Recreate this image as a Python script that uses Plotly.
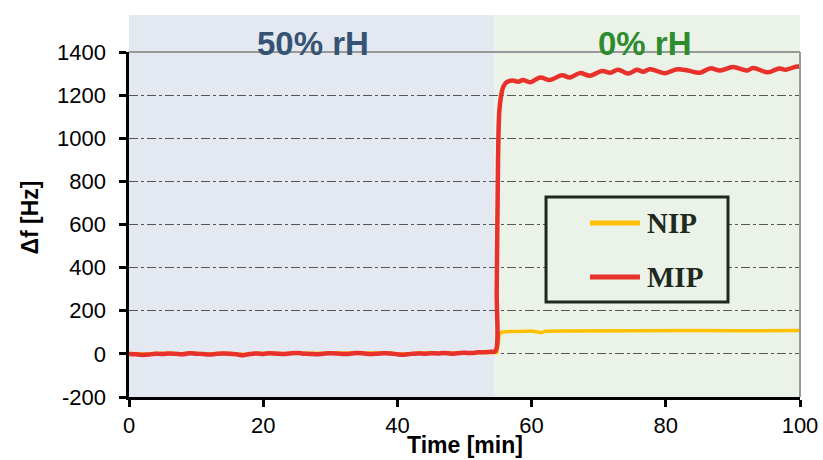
import plotly.graph_objects as go

# ---------------- data ----------------
time_pre = [0, 1, 2, 3, 4, 5, 6, 7, 8, 9, 10, 11, 12, 13, 14, 15, 16, 17, 18, 19,
            20, 21, 22, 23, 24, 25, 26, 27, 28, 29, 30, 31, 32, 33, 34, 35, 36, 37, 38, 39,
            40, 41, 42, 43, 44, 45, 46, 47, 48, 49, 50, 51, 52, 53, 54]
mip_pre = [0, -2, -5, -3, 1, -1, 2, 0, -2, 3, 1, -1, -3, 0, 2, 1, -2, -6, -1, 2,
           0, 3, 1, -1, 2, 4, 1, 0, -2, 1, 3, 2, 0, 1, 4, 2, -1, 1, 3, 2,
           -2, -4, 0, 2, 1, 3, 2, 4, 1, 3, 5, 4, 7, 8, 10]
nip_pre = [2, 1, -2, 0, 3, 1, 3, 2, 0, 4, 2, 1, -1, 2, 4, 3, 0, -3, 1, 4,
           2, 4, 3, 1, 4, 5, 3, 2, 0, 3, 4, 4, 2, 3, 5, 4, 1, 3, 4, 4,
           0, -1, 2, 4, 3, 4, 4, 5, 3, 4, 5, 5, 6, 6, 6]

time_mip_post = [54.6, 54.8, 55.0, 55.2, 55.5, 55.8, 56.3, 57.2, 58.0, 58.7, 59.8,
                 61.3, 62.7, 64.5, 65.7, 67.2, 68.7, 70.5, 71.7, 72.9, 74.4, 75.7,
                 76.6, 77.6, 78.8, 79.9, 81.7, 83.3, 85.1, 86.6, 88.1, 90.0, 92.1,
                 93.0, 95.2, 96.9, 97.9, 99.4, 100]
mip_post = [12, 300, 900, 1130, 1205, 1240, 1260, 1268, 1262, 1270, 1260,
            1282, 1270, 1292, 1282, 1302, 1290, 1312, 1304, 1318, 1300, 1318,
            1308, 1320, 1310, 1302, 1320, 1314, 1304, 1324, 1314, 1330, 1314,
            1326, 1306, 1324, 1318, 1332, 1332]

time_nip_post = [54.8, 55.0, 55.2, 55.5, 56, 58, 60, 61.5, 62, 65, 70, 75, 80, 85, 90, 95, 100]
nip_post = [6, 40, 90, 100, 103, 104, 106, 98, 105, 106, 107, 108, 107, 108, 107, 106, 108]

humid_end = 54.5
x_range = [0, 100]
y_range = [-200, 1400]
x_ticks = [0, 20, 40, 60, 80, 100]
y_ticks = [-200, 0, 200, 400, 600, 800, 1000, 1200, 1400]
y_tick_text = ["-200", "0", "200", "400", "600", "800", "1000", "1200", "1400"]

time_mip = time_pre + time_mip_post
mip = mip_pre + mip_post
time_nip = time_pre + time_nip_post
nip = nip_pre + nip_post

# ---------------- styles ----------------
BLUE_BG = "#e4e9f1"
GREEN_BG = "#ebf3e8"
RED = "#e8312a"
GOLD = "#ffc000"
TICK_FONT = dict(family="Liberation Sans, Arial", size=22, color="black")
# invisible padding glyph to push y tick labels away from the axis
LABEL_PAD = "<span style='color:rgba(0,0,0,0)'>*</span>"

fig = go.Figure()
fig.add_trace(go.Scatter(x=time_nip, y=nip, mode="lines", name="NIP",
                         line=dict(color=GOLD, width=3.5), showlegend=False))
fig.add_trace(go.Scatter(x=time_mip, y=mip, mode="lines", name="MIP",
                         line=dict(color=RED, width=4.5, shape="spline", smoothing=1.0),
                         showlegend=False))

shapes = [
    dict(type="rect", xref="x", yref="paper", x0=x_range[0], x1=humid_end, y0=0, y1=1.107,
         fillcolor=BLUE_BG, line=dict(width=0), layer="below"),
    dict(type="rect", xref="x", yref="paper", x0=humid_end, x1=x_range[1], y0=0, y1=1.107,
         fillcolor=GREEN_BG, line=dict(width=0), layer="below"),
    # top and right frame
    dict(type="line", xref="paper", yref="paper", x0=0, x1=1, y0=1, y1=1,
         line=dict(color="#999999", width=2)),
    dict(type="line", xref="paper", yref="paper", x0=1, x1=1, y0=0, y1=1,
         line=dict(color="#999999", width=2)),
    # legend box
    dict(type="rect", xref="paper", yref="paper", x0=0.6215, x1=0.8927, y0=0.2754, y1=0.5797,
         fillcolor=GREEN_BG, line=dict(color="#1e2a1e", width=3)),
    dict(type="line", xref="paper", yref="paper", x0=0.687, x1=0.7615, y0=0.504, y1=0.504,
         line=dict(color=GOLD, width=5)),
    dict(type="line", xref="paper", yref="paper", x0=0.687, x1=0.7615, y0=0.348, y1=0.348,
         line=dict(color=RED, width=5)),
]

annotations = [
    dict(text="<b>50% rH</b>", x=(x_range[0] + humid_end) / 2 + 0.1, y=1.0 + 8 / 345,
         xref="x", yref="paper", showarrow=False, xanchor="center", yanchor="middle",
         font=dict(family="Liberation Sans, Arial", size=33, color="#365373")),
    dict(text="<b>0% rH</b>", x=(humid_end + x_range[1]) / 2 - 0.4, y=1.0 + 8 / 345,
         xref="x", yref="paper", showarrow=False, xanchor="center", yanchor="middle",
         font=dict(family="Liberation Sans, Arial", size=33, color="#2e8b2e")),
    dict(text="<b>NIP</b>", x=0.769, y=0.504, xref="paper", yref="paper", showarrow=False,
         xanchor="left", yanchor="middle",
         font=dict(family="Liberation Serif, Times New Roman", size=29, color="#1e2a1e")),
    dict(text="<b>MIP</b>", x=0.769, y=0.348, xref="paper", yref="paper", showarrow=False,
         xanchor="left", yanchor="middle",
         font=dict(family="Liberation Serif, Times New Roman", size=29, color="#1e2a1e")),
    dict(text="<b>Time [min]</b>", x=0.5, y=-48 / 345, xref="paper", yref="paper",
         showarrow=False, xanchor="center", yanchor="middle",
         font=dict(family="Liberation Sans, Arial", size=23, color="black")),
    dict(text="<b>Δf [Hz]</b>", x=-99 / 671, y=0.52, xref="paper", yref="paper",
         showarrow=False, xanchor="center", yanchor="middle", textangle=-90,
         font=dict(family="Liberation Sans, Arial", size=23, color="black")),
]

fig.update_layout(
    width=823, height=460,
    margin=dict(l=129, r=23, t=52, b=63, autoexpand=False),
    paper_bgcolor="white", plot_bgcolor="rgba(0,0,0,0)",
    shapes=shapes, annotations=annotations,
    showlegend=False,
)
fig.update_xaxes(range=x_range, tickvals=x_ticks, showgrid=False, zeroline=False,
                 showline=True, linecolor="black", linewidth=3, automargin=False,
                 ticks="outside", ticklen=7, tickwidth=3, tickcolor="black",
                 tickfont=TICK_FONT)
fig.update_yaxes(range=y_range, tickvals=y_ticks,
                 ticktext=[t + LABEL_PAD for t in y_tick_text],
                 showgrid=True, gridcolor="#555555",
                 gridwidth=1, griddash="dashdot", zeroline=False,
                 showline=True, linecolor="black", linewidth=3, automargin=False,
                 ticks="outside", ticklen=7, tickwidth=3, tickcolor="black",
                 tickfont=TICK_FONT)

fig.write_html("out.html")
